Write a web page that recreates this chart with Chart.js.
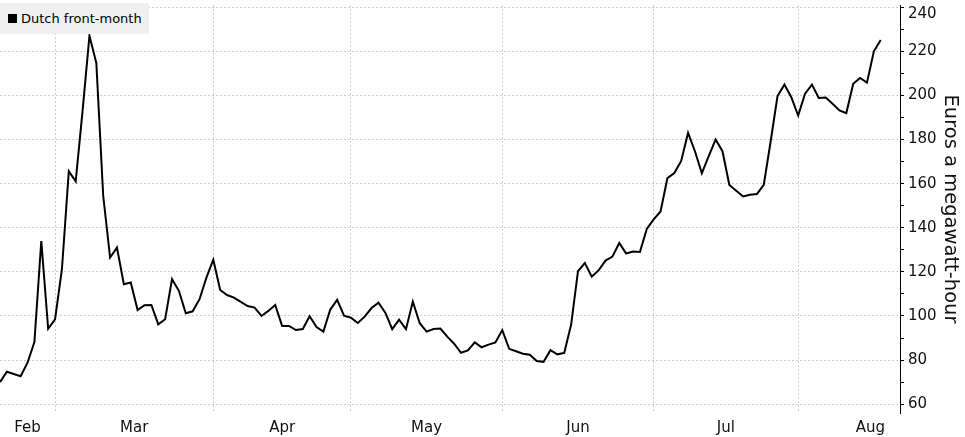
<!DOCTYPE html>
<html>
<head>
<meta charset="utf-8">
<script src="https://cdn.jsdelivr.net/npm/chart.js@4.4.1/dist/chart.umd.min.js"></script>
<style>
html,body{margin:0;padding:0;background:#fff;}
#wrap{position:relative;width:965px;height:437px;}
#legend{position:absolute;left:0;top:3px;width:149px;height:31px;background:#f0f0f0;font:13px "DejaVu Sans",sans-serif;color:#000;display:flex;align-items:center;box-sizing:border-box;padding-left:8px;white-space:nowrap;}
#legend i{display:inline-block;width:9px;height:9px;background:#000;margin-right:4px;}
</style>
</head>
<body>
<div id="wrap">
<canvas id="c" width="965" height="437"></canvas>
<div id="legend"><i></i><span id="legendText"></span></div>
</div>
<script>
// Series: Dutch TTF front-month gas price, EUR/MWh, one value per trading day
const seriesName = 'Dutch front-month';
const prices = [
  70, 74.7, 73.7, 72.7, 78.8, 88.2, 134, 94.2, 98.5, 121.2,
  165.6, 161, 193, 227, 214.7, 154.5, 126.5, 131, 114.4, 115.2,
  102.7, 104.9, 105, 96.2, 98.5, 116.7, 111.4, 101.2, 102.1, 107.6,
  117.4, 125.5, 111.8, 109.5, 108.3, 106.4, 104.5, 103.8, 100, 102.3,
  105, 95.5, 95.5, 93.6, 94.1, 99.9, 95, 92.9, 102.9, 107.3,
  100.1, 99.2, 96.8, 99.7, 103.6, 106, 101.5, 94, 98.3, 94,
  106.5, 96.7, 92.9, 94.1, 94.3, 90.6, 87.4, 83.3, 84.4, 88,
  85.8, 87, 88, 93.6, 85.1, 84, 82.9, 82.4, 79.6, 79.2,
  84.5, 82.6, 83.2, 96, 120.3, 124, 117.8, 120.7, 125.1, 126.9,
  133.1, 128.3, 129.2, 129, 139.5, 143.8, 147.4, 162.5, 164.8, 170.3,
  183, 174.7, 164.7, 172.5, 180, 174.7, 159.4, 156.8, 154.2, 155,
  155.3, 159.4, 179.1, 199.7, 204.9, 199.2, 190.9, 200.8, 204.9, 198.8,
  199, 196.2, 193.2, 192, 205.3, 207.9, 205.8, 220, 225.1
];
// Month tick labels and the trading-day indices of month boundaries / label centres
const monthNames = ['Feb', 'Mar', 'Apr', 'May', 'Jun', 'Jul', 'Aug'];
const monthBoundaryIndex = [8, 31, 51, 73, 95, 116];
const monthLabelIndex = [4, 19.5, 41, 62, 84, 105.5, 126.5];
const yTickValues = [60, 70, 80, 90, 100, 110, 120, 130, 140, 150, 160, 170, 180, 190, 200, 210, 220, 230, 240];
const yLabelStep = 20;
const yTitle = 'Euros a megawatt-hour';

document.getElementById('legendText').textContent = seriesName;

const FONT = '"DejaVu Sans", sans-serif';
const GRID = '#cdcdcd';
const NONE = 'rgba(0,0,0,0)';

// Nudge the topmost y label down a little so it sits inside the canvas, as in the original
const topLabelNudge = {
  id: 'topLabelNudge',
  beforeDraw(chart) {
    try {
      const s = chart.scales.y;
      const items = s.getLabelItems(chart.chartArea);
      const maxV = yTickValues[yTickValues.length - 1];
      items.forEach(it => {
        if (String(it.label) === String(maxV) && it.options && it.options.translation && !it._nudged) {
          it.options.translation[1] += 7;
          it._nudged = true;
        }
      });
    } catch (e) { /* ignore */ }
  }
};

new Chart(document.getElementById('c'), {
  type: 'line',
  data: {
    datasets: [{
      label: seriesName,
      data: prices.map((v, i) => ({ x: i, y: v })),
      borderColor: '#000',
      borderWidth: 2,
      pointRadius: 0,
      tension: 0,
      fill: false
    }]
  },
  plugins: [topLabelNudge],
  options: {
    responsive: false,
    animation: false,
    devicePixelRatio: 1,
    layout: { padding: { top: 5, left: 0, right: 0, bottom: 0 } },
    plugins: { legend: { display: false }, tooltip: { enabled: false } },
    scales: {
      x: {
        type: 'linear',
        min: 0,
        max: 130.8,
        afterBuildTicks: s => {
          const vals = monthBoundaryIndex.concat(monthLabelIndex).sort((a, b) => a - b);
          s.ticks = vals.map(v => ({ value: v }));
        },
        ticks: {
          autoSkip: false,
          maxRotation: 0,
          minRotation: 0,
          padding: 6,
          color: '#111',
          font: { family: FONT, size: 15 },
          callback: v => {
            const k = monthLabelIndex.indexOf(v);
            return k >= 0 ? monthNames[k] : '';
          }
        },
        grid: {
          drawTicks: false,
          lineWidth: 1,
          color: c => (c.tick && monthBoundaryIndex.includes(c.tick.value)) ? GRID : NONE
        },
        border: { display: false, dash: [2, 2] },
        afterFit: s => { s.height = 24; s.paddingLeft = 0; s.paddingRight = 0; }
      },
      y: {
        position: 'right',
        min: 56,
        max: 241,
        afterBuildTicks: s => { s.ticks = yTickValues.map(v => ({ value: v })); },
        ticks: {
          autoSkip: false,
          padding: 4,
          color: '#111',
          font: { family: FONT, size: 15 },
          callback: v => (v % yLabelStep === 0 ? String(v) : '')
        },
        grid: {
          drawTicks: true,
          tickLength: 4,
          tickColor: '#000',
          lineWidth: 1,
          color: c => (c.tick && c.tick.value % yLabelStep === 0) ? GRID : NONE
        },
        border: { display: true, color: '#000', width: 1, dash: [2, 2] },
        title: {
          display: true,
          text: yTitle,
          color: '#111',
          font: { family: FONT, size: 19.5 },
          padding: { top: 3, bottom: 0 }
        },
        afterFit: s => { s.width = 65; s.paddingTop = 0; s.paddingBottom = 0; }
      }
    }
  }
});
</script>
</body>
</html>
